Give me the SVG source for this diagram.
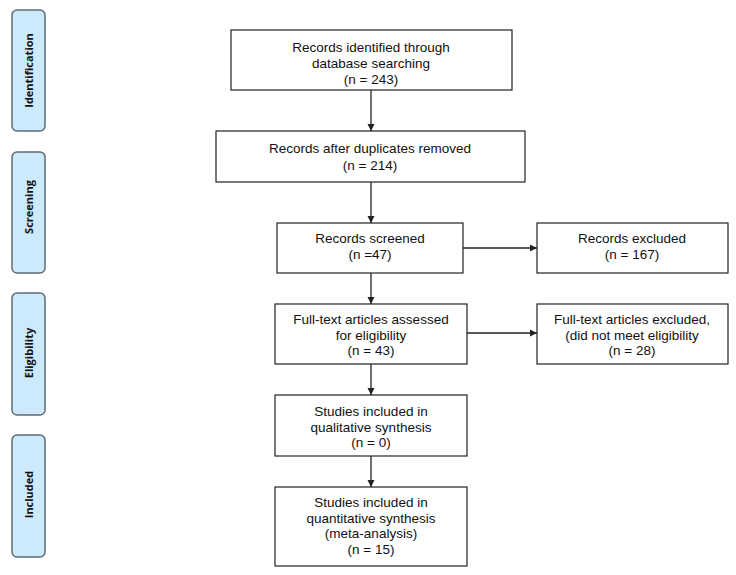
<svg xmlns="http://www.w3.org/2000/svg" width="736" height="575" viewBox="0 0 736 575">
<style>
.box{fill:#fff;stroke:#222;stroke-width:1.2}
.phase{fill:#cdeafc;stroke:#5f6b75;stroke-width:1.5}
.t{font-family:"Liberation Sans",Arial,sans-serif;font-size:13.5px;fill:#111;text-anchor:middle}
.p{font-family:"Open Sans","Liberation Sans",Arial,sans-serif;font-size:11px;font-weight:bold;fill:#111;text-anchor:middle}
.c{stroke:#222;stroke-width:1.3;fill:none;marker-end:url(#ah)}
</style>
<defs>
<marker id="ah" markerWidth="8" markerHeight="8" refX="7" refY="4" orient="auto" markerUnits="userSpaceOnUse">
<path d="M0,0.5 L7,4 L0,7.5 Z" fill="#222"/>
</marker>
</defs>
<rect width="736" height="575" fill="#fff"/>
<g id="phase-identification"><rect class="phase" x="12" y="10" width="33" height="121" rx="5"/><text class="p" transform="translate(32.5,70.5) rotate(-90)">Identification</text></g>
<g id="phase-screening"><rect class="phase" x="12" y="152" width="33" height="121" rx="5"/><text class="p" transform="translate(32.5,207) rotate(-90)">Screening</text></g>
<g id="phase-eligibility"><rect class="phase" x="12" y="293" width="33" height="122" rx="5"/><text class="p" transform="translate(32.5,353) rotate(-90)">Eligibility</text></g>
<g id="phase-included"><rect class="phase" x="12" y="435" width="33" height="122" rx="5"/><text class="p" transform="translate(32.5,494.5) rotate(-90)">Included</text></g>

<g id="identified"><rect class="box" x="231" y="30" width="281" height="60"/>
<text class="t" x="371" y="51.5">Records identified through</text>
<text class="t" x="371" y="67.5">database searching</text>
<text class="t" x="371" y="83.5">(n = 243)</text></g>
<g id="duplicates"><rect class="box" x="216" y="131" width="309" height="51"/>
<text class="t" x="370" y="152.5">Records after duplicates removed</text>
<text class="t" x="370" y="170">(n = 214)</text></g>
<g id="screened"><rect class="box" x="277" y="223" width="186" height="50"/>
<text class="t" x="370" y="243">Records screened</text>
<text class="t" x="370" y="259">(n =47)</text></g>
<g id="excluded"><rect class="box" x="537" y="223" width="191" height="50"/>
<text class="t" x="632" y="243">Records excluded</text>
<text class="t" x="632" y="259">(n = 167)</text></g>
<g id="fulltext"><rect class="box" x="275" y="304" width="192" height="60"/>
<text class="t" x="371" y="324">Full-text articles assessed</text>
<text class="t" x="371" y="339.5">for eligibility</text>
<text class="t" x="371" y="355">(n = 43)</text></g>
<g id="fulltext-excluded"><rect class="box" x="537" y="304" width="191" height="60"/>
<text class="t" x="632" y="324">Full-text articles excluded,</text>
<text class="t" x="632" y="339.5">(did not meet eligibility</text>
<text class="t" x="632" y="355">(n = 28)</text></g>
<g id="qualitative"><rect class="box" x="275" y="395" width="192" height="61"/>
<text class="t" x="371" y="416">Studies included in</text>
<text class="t" x="371" y="431.5">qualitative synthesis</text>
<text class="t" x="371" y="447">(n = 0)</text></g>
<g id="quantitative"><rect class="box" x="275" y="487" width="192" height="79"/>
<text class="t" x="371" y="507">Studies included in</text>
<text class="t" x="371" y="522.5">quantitative synthesis</text>
<text class="t" x="371" y="538">(meta-analysis)</text>
<text class="t" x="371" y="553.5">(n = 15)</text></g>

<g id="connectors">
<line class="c" x1="371" y1="90" x2="371" y2="131"/>
<line class="c" x1="371" y1="182" x2="371" y2="223"/>
<line class="c" x1="371" y1="273" x2="371" y2="304"/>
<line class="c" x1="371" y1="364" x2="371" y2="395"/>
<line class="c" x1="371" y1="456" x2="371" y2="487"/>
<line class="c" x1="463" y1="248" x2="537" y2="248"/>
<line class="c" x1="467" y1="333" x2="537" y2="333"/>
</g>
</svg>
